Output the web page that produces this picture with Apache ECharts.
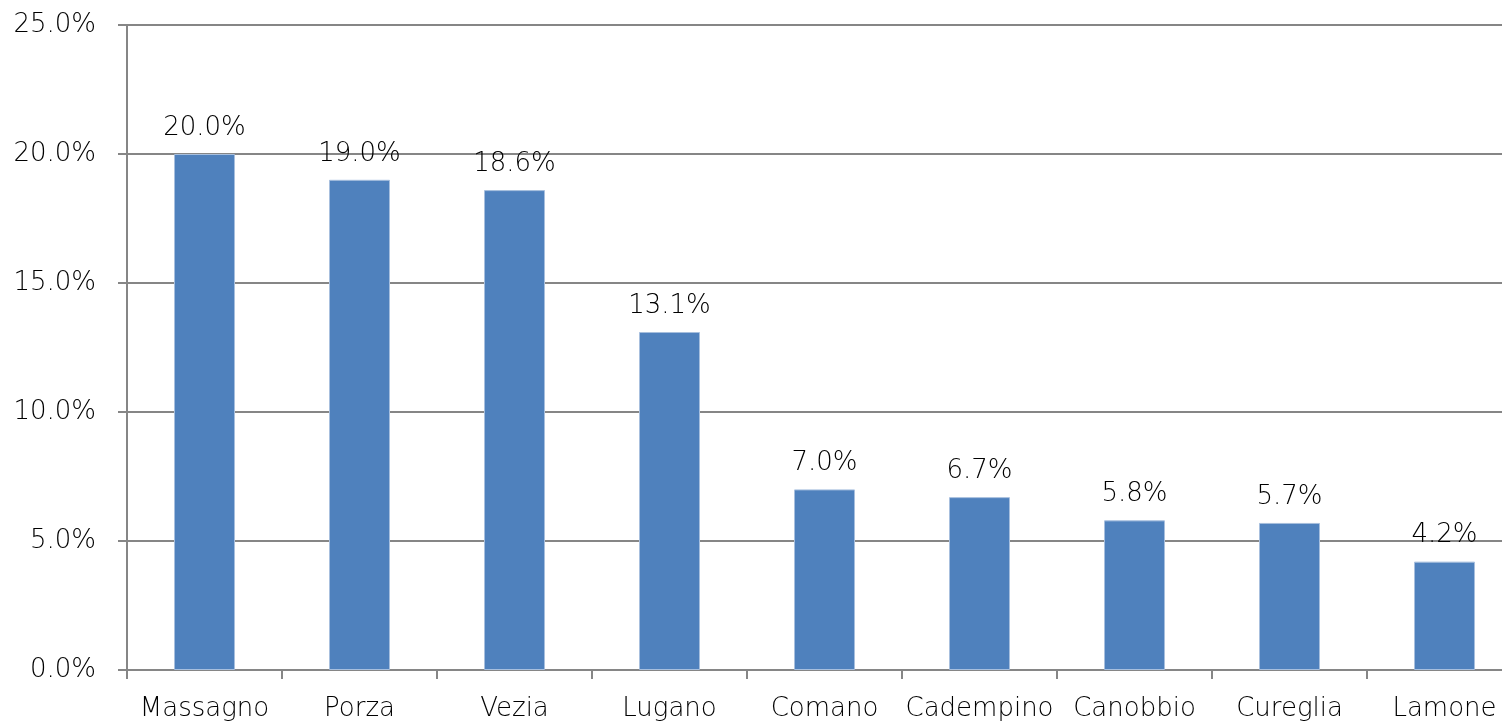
<!DOCTYPE html>
<html>
<head>
<meta charset="utf-8">
<script src="https://cdn.jsdelivr.net/npm/echarts@6/dist/echarts.min.js"></script>
<style>
  html, body { margin: 0; padding: 0; background: #fff; overflow: hidden; }
  #chart { width: 1522px; height: 723px; }
</style>
</head>
<body>
<div id="chart"></div>
<script>
// comuni and shares (%)
const categories = ['Massagno', 'Porza', 'Vezia', 'Lugano', 'Comano', 'Cadempino', 'Canobbio', 'Cureglia', 'Lamone'];
const values = [20.0, 19.0, 18.6, 13.1, 7.0, 6.7, 5.8, 5.7, 4.2];

const axisGray = '#868686';
const font = 'DejaVu Sans, sans-serif';
const weight = 300;

const chart = echarts.init(document.getElementById('chart'));
chart.setOption({
  animation: false,
  grid: { left: 127, top: 25, right: 0, bottom: 53 },
  xAxis: {
    type: 'category',
    data: categories,
    axisLine: { lineStyle: { color: axisGray, width: 2 } },
    axisTick: { show: true, length: 9, lineStyle: { color: axisGray, width: 2 } },
    axisLabel: { interval: 0, color: '#000', fontSize: 26, fontWeight: weight, fontFamily: font, margin: 26 }
  },
  yAxis: {
    type: 'value',
    min: 0,
    max: 25,
    interval: 5,
    axisLine: { show: true, lineStyle: { color: axisGray, width: 2 } },
    axisTick: { show: true, length: 9, lineStyle: { color: axisGray, width: 2 } },
    splitLine: { lineStyle: { color: axisGray, width: 2 } },
    axisLabel: {
      color: '#000', fontSize: 26, fontWeight: weight, fontFamily: font, margin: 31,
      formatter: v => v.toFixed(1) + '%'
    }
  },
  series: [{
    type: 'bar',
    data: values,
    barWidth: 61,
    itemStyle: { color: '#4F81BD', borderColor: '#A7BFDE', borderWidth: 1 },
    label: {
      show: true,
      position: 'top',
      distance: 13,
      color: '#000',
      fontSize: 26,
      fontWeight: weight,
      fontFamily: font,
      formatter: p => p.value.toFixed(1) + '%'
    }
  }]
});
</script>
</body>
</html>
